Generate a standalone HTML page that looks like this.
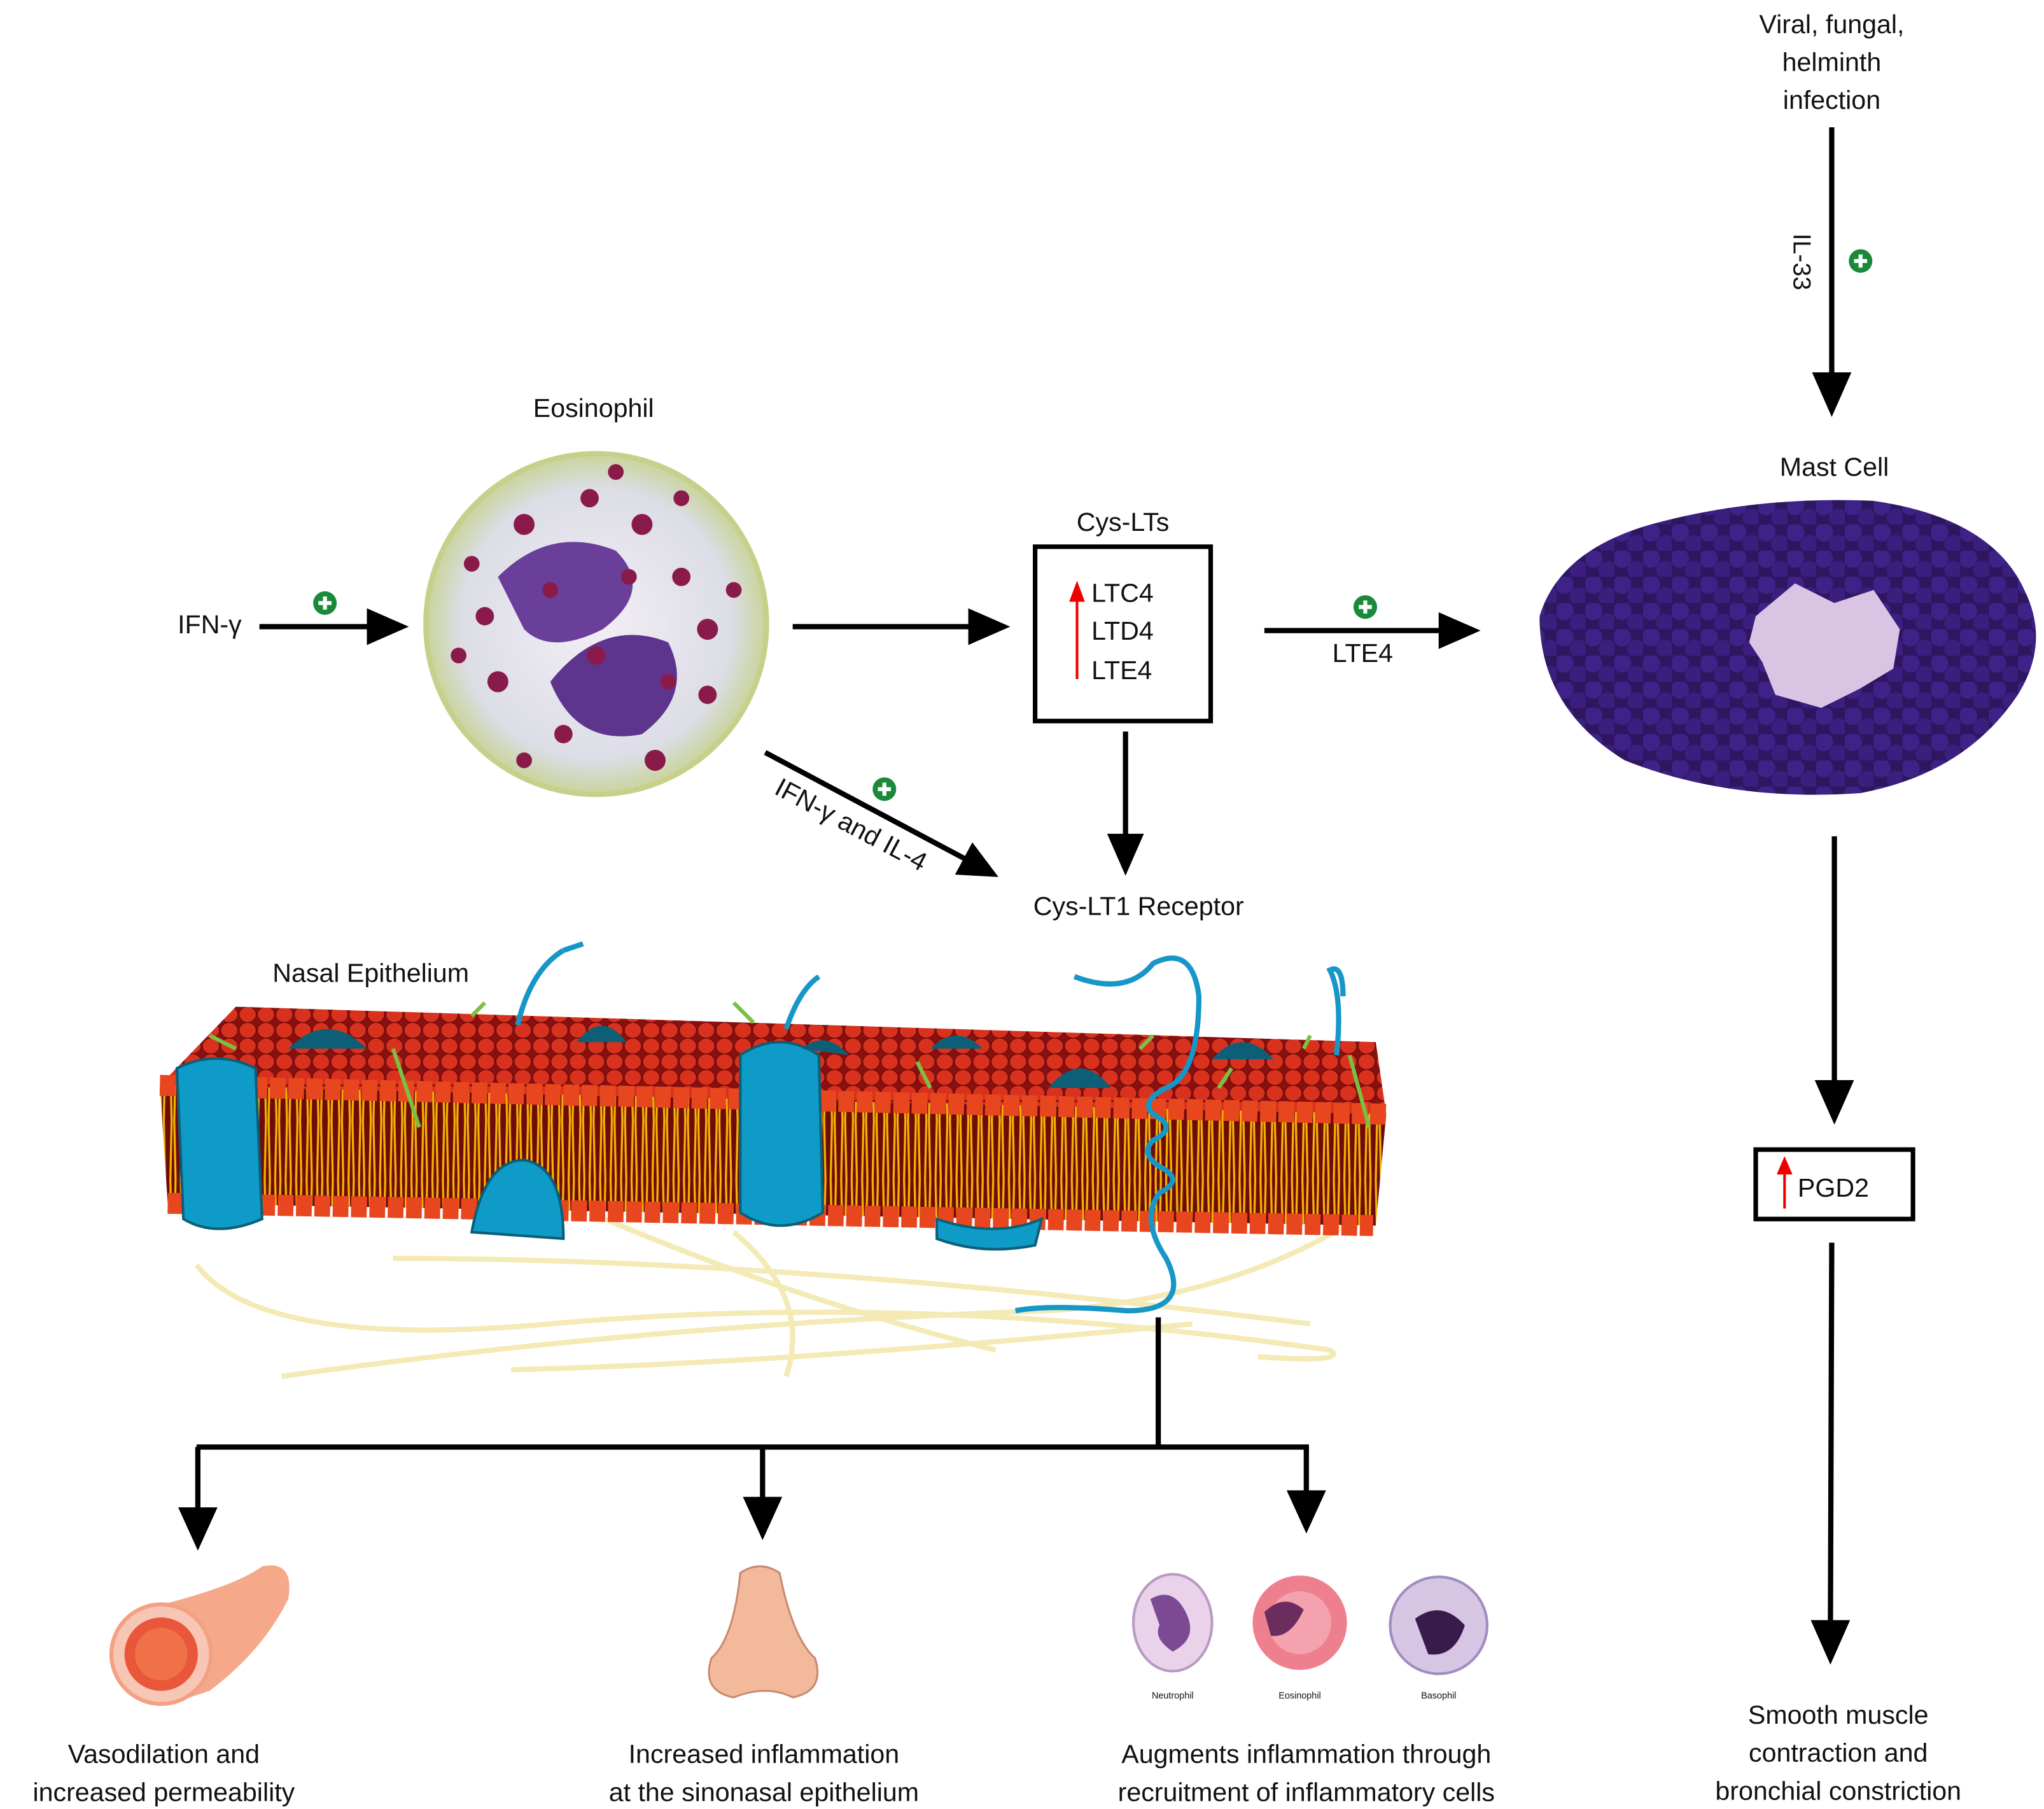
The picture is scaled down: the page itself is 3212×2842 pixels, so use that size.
<!DOCTYPE html>
<html><head><meta charset="utf-8"><style>
html,body{margin:0;padding:0;background:#fff}
svg{display:block}
text{font-family:"Liberation Sans",sans-serif;fill:#111}
</style></head><body>
<svg width="3212" height="2842" viewBox="0 0 1560 1380" xmlns="http://www.w3.org/2000/svg">
<defs>
<pattern id="heads" width="14" height="12" patternUnits="userSpaceOnUse">
<rect width="14" height="12" fill="#8a1010"/>
<ellipse cx="7" cy="6" rx="6.5" ry="6" fill="#d8321e" stroke="#6a0a0a" stroke-width="0.6"/>
</pattern>
<pattern id="tails" width="8" height="90" patternUnits="userSpaceOnUse">
<rect width="8" height="90" fill="#6e0c0c"/>
<path d="M2 0 L3 45 L2 90 M6 0 L5 45 L6 90" stroke="#f4b400" stroke-width="1.6" fill="none"/>
</pattern>
<pattern id="mast" width="22" height="20" patternUnits="userSpaceOnUse">
<rect width="22" height="20" fill="#2e1760"/>
<circle cx="6" cy="6" r="7" fill="#3f2288"/>
<circle cx="17" cy="15" r="7" fill="#3a1f7e"/>
</pattern>
<radialGradient id="eos" cx="50%" cy="50%" r="50%">
<stop offset="0" stop-color="#f3eef5"/><stop offset="0.8" stop-color="#dcdde6"/><stop offset="1" stop-color="#c9d49a"/>
</radialGradient>
</defs>

<!-- Top right -->
<text x="1398" y="25" font-size="20" text-anchor="middle">Viral, fungal,</text>
<text x="1398" y="54" font-size="20" text-anchor="middle">helminth</text>
<text x="1398" y="83" font-size="20" text-anchor="middle">infection</text>
<line x1="1398" y1="97" x2="1398" y2="292" stroke="#000" stroke-width="4"/>
<polygon points="1383,284 1413,284 1398,318" fill="#000"/>
<text x="0" y="0" font-size="19" transform="translate(1369,178) rotate(90)">IL-33</text>
<circle cx="1420" cy="199" r="9" fill="#1a8a3a"/><path d="M1415 199h10M1420 194v10" stroke="#fff" stroke-width="3"/>
<text x="1400" y="363" font-size="20" text-anchor="middle">Mast Cell</text>
<path d="M1175 470 Q1190 420 1260 400 Q1340 378 1430 382 Q1520 395 1545 450 Q1565 490 1540 530 Q1500 590 1420 605 Q1320 612 1240 580 Q1175 540 1175 470Z" fill="url(#mast)"/>
<path d="M1340 470 L1370 445 L1400 460 L1430 450 L1450 480 L1445 510 L1420 525 L1390 540 L1355 530 L1345 505 L1335 490Z" fill="#d9c5e3"/>
<line x1="1400" y1="638" x2="1400" y2="830" stroke="#000" stroke-width="4"/>
<polygon points="1385,824 1415,824 1400,858" fill="#000"/>
<rect x="1340" y="877" width="120" height="53" fill="#fff" stroke="#000" stroke-width="3.5"/>
<line x1="1362" y1="922" x2="1362" y2="892" stroke="#e00" stroke-width="2"/><polygon points="1356,896 1368,896 1362,882" fill="#e00"/>
<text x="1372" y="913" font-size="20">PGD2</text>
<line x1="1398" y1="948" x2="1397" y2="1242" stroke="#000" stroke-width="4"/>
<polygon points="1382,1236 1412,1236 1397,1270" fill="#000"/>
<text x="1403" y="1315" font-size="20" text-anchor="middle">Smooth muscle</text>
<text x="1403" y="1344" font-size="20" text-anchor="middle">contraction and</text>
<text x="1403" y="1373" font-size="20" text-anchor="middle">bronchial constriction</text>

<!-- Eosinophil -->
<text x="453" y="318" font-size="20" text-anchor="middle">Eosinophil</text>
<circle cx="455" cy="476" r="130" fill="url(#eos)" stroke="#c7d08a" stroke-width="4"/>
<path d="M380 440 Q420 400 470 420 Q500 450 460 480 Q420 500 400 480Z" fill="#6a3f9a"/>
<path d="M420 520 Q460 470 510 490 Q530 530 490 560 Q440 570 420 520Z" fill="#5d358c"/>
<g fill="#8a1a4a">
<circle cx="400" cy="400" r="8"/><circle cx="450" cy="380" r="7"/><circle cx="490" cy="400" r="8"/><circle cx="520" cy="440" r="7"/><circle cx="540" cy="480" r="8"/><circle cx="370" cy="470" r="7"/><circle cx="380" cy="520" r="8"/><circle cx="430" cy="560" r="7"/><circle cx="500" cy="580" r="8"/><circle cx="540" cy="530" r="7"/><circle cx="480" cy="440" r="6"/><circle cx="420" cy="450" r="6"/><circle cx="455" cy="500" r="7"/><circle cx="510" cy="520" r="6"/><circle cx="360" cy="430" r="6"/><circle cx="470" cy="360" r="6"/><circle cx="520" cy="380" r="6"/><circle cx="350" cy="500" r="6"/><circle cx="400" cy="580" r="6"/><circle cx="560" cy="450" r="6"/>
</g>
<text x="160" y="483" font-size="20" text-anchor="middle">IFN-γ</text>
<line x1="198" y1="478" x2="285" y2="478" stroke="#000" stroke-width="4"/>
<polygon points="280,464 280,492 312,478" fill="#000"/>
<circle cx="248" cy="460" r="9" fill="#1a8a3a"/><path d="M243 460h10M248 455v10" stroke="#fff" stroke-width="3"/>
<line x1="605" y1="478" x2="744" y2="478" stroke="#000" stroke-width="4"/>
<polygon points="739,464 739,492 771,478" fill="#000"/>

<!-- Cys-LTs -->
<text x="857" y="405" font-size="20" text-anchor="middle">Cys-LTs</text>
<rect x="790" y="417" width="134" height="133" fill="#fff" stroke="#000" stroke-width="3.5"/>
<text x="833" y="459" font-size="20">LTC4</text>
<text x="833" y="488" font-size="20">LTD4</text>
<text x="833" y="518" font-size="20">LTE4</text>
<line x1="822" y1="518" x2="822" y2="455" stroke="#e00" stroke-width="2"/><polygon points="816,459 828,459 822,443" fill="#e00"/>
<line x1="965" y1="481" x2="1100" y2="481" stroke="#000" stroke-width="4"/>
<polygon points="1098,467 1098,495 1130,481" fill="#000"/>
<circle cx="1042" cy="463" r="9" fill="#1a8a3a"/><path d="M1037 463h10M1042 458v10" stroke="#fff" stroke-width="3"/>
<text x="1040" y="505" font-size="20" text-anchor="middle">LTE4</text>
<line x1="859" y1="558" x2="859" y2="640" stroke="#000" stroke-width="4"/>
<polygon points="845,636 873,636 859,668" fill="#000"/>
<line x1="584" y1="574" x2="740" y2="657" stroke="#000" stroke-width="4"/>
<polygon points="728.9,667.2 742.1,642.6 762,669" fill="#000"/>
<circle cx="675" cy="602" r="9" fill="#1a8a3a"/><path d="M670 602h10M675 597v10" stroke="#fff" stroke-width="3"/>
<text x="0" y="0" font-size="20" transform="translate(590,605) rotate(28)">IFN-γ and IL-4</text>
<text x="869" y="698" font-size="20" text-anchor="middle">Cys-LT1 Receptor</text>
<text x="283" y="749" font-size="20" text-anchor="middle">Nasal Epithelium</text>

<!-- Fibers -->
<g fill="none" stroke="#f3eab6" stroke-width="4">
<path d="M150 965 Q200 1030 420 1010 Q700 985 1015 1030 Q1030 1040 960 1035"/>
<path d="M215 1050 Q500 1010 800 1000 Q950 990 1050 920"/>
<path d="M390 1045 Q600 1040 910 1010"/>
<path d="M450 925 Q600 990 760 1030"/>
<path d="M560 940 Q620 990 600 1050"/>
<path d="M300 960 Q600 960 1000 1010"/>
</g>
<!-- Membrane -->
<polygon points="180,768 1050,795 1058,850 122,828" fill="url(#heads)"/>
<polygon points="122,828 1058,850 1050,935 128,918" fill="url(#tails)"/>
<g fill="#e8461f" stroke="#7a0e0e" stroke-width="0.6">
<path d="M122 828 L1058 850" stroke="#e8461f" stroke-width="16" stroke-dasharray="12 2"/>
<path d="M128 918 L1048 935" stroke="#e8461f" stroke-width="16" stroke-dasharray="12 2"/>
</g>
<g fill="#0f9bc7" stroke="#0b5f78" stroke-width="2">
<path d="M135 815 Q165 800 195 815 L200 930 Q165 945 140 930Z"/>
<path d="M565 805 Q595 785 625 805 L628 925 Q595 945 565 925Z"/>
<path d="M360 940 Q370 885 400 885 Q430 890 430 945Z"/>
<path d="M715 930 Q760 945 795 930 L790 950 Q750 958 715 945Z"/>
</g>
<g fill="#0d5f78">
<path d="M220 800 Q250 770 280 800Z"/><path d="M440 795 Q460 770 478 795Z"/><path d="M612 800 Q630 785 648 805Z"/><path d="M710 800 Q730 780 750 800Z"/><path d="M800 830 Q825 800 848 830Z"/><path d="M925 808 Q948 782 972 808Z"/>
</g>
<g fill="none" stroke="#1796c8" stroke-width="4">
<path d="M395 782 Q405 740 430 725 M430 725 L445 720"/>
<path d="M600 785 Q610 755 625 745"/>
<path d="M820 745 Q860 760 880 735 Q910 720 915 760 Q915 820 890 830 Q870 840 880 850 Q900 860 880 870 Q870 880 885 890 Q905 900 885 910 Q870 930 890 960 Q910 1000 860 1000 Q800 995 775 1000"/>
<path d="M1020 805 Q1025 760 1015 740 Q1025 735 1025 760"/>
</g>
<g fill="none" stroke="#7bc043" stroke-width="3">
<path d="M160 790 L180 800 M300 800 L320 860 M360 775 L370 765 M560 765 L575 780 M700 810 L710 830 M870 800 L880 790 M930 830 L940 815 M995 800 L1000 790 M1030 805 L1045 860"/>
</g>

<!-- Bottom tree -->
<line x1="884" y1="1005" x2="884" y2="1104" stroke="#000" stroke-width="4"/>
<line x1="150" y1="1104" x2="999" y2="1104" stroke="#000" stroke-width="4"/>
<line x1="151" y1="1104" x2="151" y2="1155" stroke="#000" stroke-width="4"/>
<polygon points="136,1150 166,1150 151,1183" fill="#000"/>
<line x1="582" y1="1104" x2="582" y2="1147" stroke="#000" stroke-width="4"/>
<polygon points="567,1142 597,1142 582,1175" fill="#000"/>
<line x1="997" y1="1104" x2="997" y2="1142" stroke="#000" stroke-width="4"/>
<polygon points="982,1137 1012,1137 997,1170" fill="#000"/>

<!-- Icons -->
<path d="M120 1225 Q180 1210 200 1195 Q225 1190 220 1220 Q200 1260 160 1290 L130 1300Z" fill="#f5a98a"/>
<circle cx="123" cy="1262" r="38" fill="#f8c6b4" stroke="#f3a083" stroke-width="3"/>
<circle cx="123" cy="1262" r="28" fill="#e9573a"/>
<circle cx="123" cy="1262" r="20" fill="#f07148"/>
<path d="M565 1200 Q580 1190 595 1200 Q605 1250 622 1265 Q630 1290 605 1295 Q585 1285 560 1295 Q535 1290 543 1265 Q560 1250 565 1200Z" fill="#f2b99a" stroke="#c98a70" stroke-width="1.5"/>
<ellipse cx="895" cy="1238" rx="30" ry="37" fill="#e9d2ea" stroke="#b99ac2" stroke-width="2"/>
<path d="M878 1220 Q895 1210 905 1230 Q915 1250 895 1260 Q880 1250 885 1240Z" fill="#7b4a93"/>
<circle cx="992" cy="1238" r="36" fill="#ee7f8e"/><circle cx="992" cy="1238" r="24" fill="#f4a2ad"/>
<path d="M965 1230 Q980 1215 995 1228 Q985 1250 970 1248Z" fill="#6a2d5e"/>
<circle cx="1098" cy="1240" r="37" fill="#d6c5e3" stroke="#a08cc0" stroke-width="2"/>
<path d="M1080 1235 Q1100 1220 1118 1240 Q1110 1265 1090 1262Z" fill="#3a1a4a"/>
<text x="895" y="1296" font-size="7" text-anchor="middle">Neutrophil</text>
<text x="992" y="1296" font-size="7" text-anchor="middle">Eosinophil</text>
<text x="1098" y="1296" font-size="7" text-anchor="middle">Basophil</text>

<text x="125" y="1345" font-size="20" text-anchor="middle">Vasodilation and</text>
<text x="125" y="1374" font-size="20" text-anchor="middle">increased permeability</text>
<text x="583" y="1345" font-size="20" text-anchor="middle">Increased inflammation</text>
<text x="583" y="1374" font-size="20" text-anchor="middle">at the sinonasal epithelium</text>
<text x="997" y="1345" font-size="20" text-anchor="middle">Augments inflammation through</text>
<text x="997" y="1374" font-size="20" text-anchor="middle">recruitment of inflammatory cells</text>
</svg>
</body></html>
